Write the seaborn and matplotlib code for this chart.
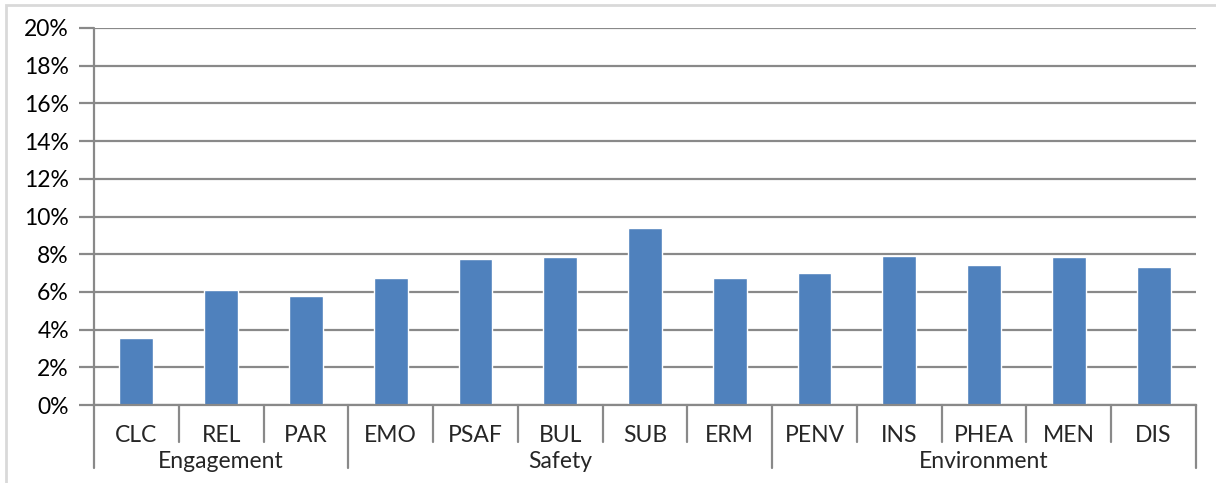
import matplotlib
matplotlib.use("Agg")
import matplotlib.pyplot as plt
import seaborn as sns
import pandas as pd
from matplotlib.patches import Rectangle
from matplotlib.ticker import PercentFormatter

categories = ['CLC', 'REL', 'PAR', 'EMO', 'PSAF', 'BUL', 'SUB', 'ERM',
              'PENV', 'INS', 'PHEA', 'MEN', 'DIS']
values = [3.55, 6.1, 5.78, 6.74, 7.75, 7.85, 9.39, 6.74,
          7.0, 7.9, 7.43, 7.85, 7.32]
groups = ['Engagement', 'Safety', 'Environment']
group_sizes = [3, 5, 5]

df = pd.DataFrame({'cat': categories, 'val': values})

sns.set_theme(style='white')
plt.rcParams['font.family'] = ['Lato', 'DejaVu Sans']

grid_col = '#898989'

fig = plt.figure(figsize=(12.16, 4.83), dpi=100)
ax = fig.add_axes([94 / 1216, 1 - 405 / 483, (1196 - 94) / 1216, (405 - 28) / 483])

sns.barplot(data=df, x='cat', y='val', color='#4f81bd', width=0.4,
            saturation=1, ax=ax)

ax.set_ylim(0, 20)
ax.set_xlim(-0.5, len(categories) - 0.5)
ax.set_yticks(range(0, 21, 2))
ax.yaxis.set_major_formatter(PercentFormatter(decimals=0))
ax.set_xlabel('')
ax.set_ylabel('')
ax.set_xticks([])

ax.yaxis.grid(True, color=grid_col, lw=1.6)
ax.set_axisbelow(True)
for s in ['top', 'right']:
    ax.spines[s].set_visible(False)
ax.spines['left'].set_visible(False)
ax.spines['bottom'].set_color(grid_col)
ax.spines['bottom'].set_linewidth(1.6)
ax.tick_params(axis='y', which='major', direction='out', length=11, width=1.6,
               color=grid_col, pad=7, labelsize=16.5, labelcolor='black', left=True)

# category / group axis drawn below the plot
trans = ax.get_xaxis_transform()
short = -37 / 377
long = -63 / 377
ax.plot([-0.5, -0.5], [1, long], color=grid_col, lw=1.6, transform=trans, clip_on=False)
for i, c in enumerate(categories):
    ax.text(i, -30 / 377, c, transform=trans, ha='center', va='center', fontsize=16.5)

start = 0
for g, n in zip(groups, group_sizes):
    end = start + n
    for b in range(start + 1, end):
        ax.plot([b - 0.5, b - 0.5], [0, short], color=grid_col, lw=1.6,
                transform=trans, clip_on=False)
    ax.plot([end - 0.5, end - 0.5], [0, long], color=grid_col, lw=1.6,
            transform=trans, clip_on=False)
    ax.text((start + end - 1) / 2, -57 / 377, g, transform=trans, ha='center',
            va='center', fontsize=16.5)
    start = end

# light outer frame of the chart
fig.patches.append(Rectangle((6 / 1216, -0.05), 1.1, 1 - 5 / 483 + 0.05,
                             transform=fig.transFigure, fill=False,
                             edgecolor='#d9d9d9', lw=2))

fig.savefig('out.png', dpi=100)
